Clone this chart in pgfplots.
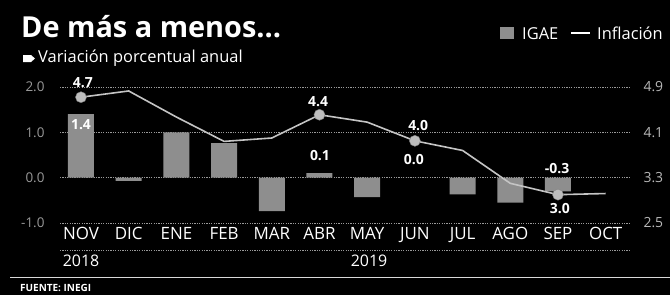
\documentclass[border=0pt]{standalone}
\usepackage{pgfplots}
\pgfplotsset{compat=1.18}
\usepackage{fontspec}
\setmainfont{Open Sans}
\definecolor{bargray}{HTML}{8E8E8E}
\definecolor{linegray}{HTML}{C4C4C4}
\definecolor{gridgray}{HTML}{9A9A9A}
\definecolor{lefttick}{HTML}{999999}
\definecolor{righttick}{HTML}{B8B8B8}
\definecolor{markgray}{HTML}{BDBDBD}
\pgfplotstableread{
x y
0 1.4
1 -0.07
2 1.0
3 0.76
4 -0.74
5 0.1
6 -0.43
7 0.0
8 -0.37
9 -0.55
10 -0.3
}\igae
\pgfplotstableread{
x y
0 4.72
1 4.83
2 4.37
3 3.94
4 4.00
5 4.41
6 4.28
7 3.95
8 3.78
9 3.20
10 3.00
11 3.02
}\infl
\pgfplotstableread{
x y
0 4.72
5 4.41
7 3.95
10 3.00
}\inflmk
\begin{document}
\begin{tikzpicture}[x=1bp,y=1bp]
\useasboundingbox (0,0) rectangle (670,295);
\fill[black] (0,0) rectangle (670,295);
% title
\node[anchor=base west, inner sep=0, text=white, font=\fontsize{29}{29}\bfseries\selectfont] at (21,258) {De más a menos...};
\fill[white] (23,240) -- (31,240) -- (35,236.5) -- (31,233) -- (23,233) -- cycle;
\node[anchor=base west, inner sep=0, text=white, font=\fontsize{16.5}{16.5}\selectfont] at (38,233) {Variación porcentual anual};
% legend
\fill[bargray] (500,256) rectangle (514,268);
\node[anchor=base west, inner sep=0, text=white, font=\fontsize{16.5}{16.5}\selectfont] at (522,256) {IGAE};
\draw[white, line width=1.8bp] (571,262) -- (590,262);
\node[anchor=base west, inner sep=0, text=white, font=\fontsize{16.5}{16.5}\selectfont] at (597,256) {Inflación};
\begin{axis}[
  at={(60bp,72bp)}, anchor=south west, scale only axis,
  width=570bp, height=136bp,
  xmin=-0.44, xmax=11.51, ymin=-1, ymax=2,
  axis line style={draw=none}, major tick length=0pt,
  ytick={-1,0,1,2}, yticklabels={-1.0,0.0,1.0,2.0},
  yticklabel style={text=lefttick, font=\fontsize{13.5}{13.5}\selectfont, anchor=east, xshift=-12bp},
  ymajorgrids, grid style={gridgray, dash pattern=on 1.2bp off 1.2bp, line width=0.9bp},
  xtick={0,...,11},
  xticklabels={NOV,DIC,ENE,FEB,MAR,ABR,MAY,JUN,JUL,AGO,SEP,OCT},
  xticklabel style={text=white, font=\fontsize{17}{17}\selectfont, anchor=north, yshift=-1bp},
  clip=false,
  /pgf/number format/assume math mode=true,
]
\addplot[ybar, bar width=26bp, fill=bargray, draw=none] table[x=x,y=y] {\igae};
\node[text=white, font=\fontsize{14}{14}\bfseries\selectfont] at (axis cs:0.04,2.10) {4.7};
\node[text=white, font=\fontsize{14}{14}\bfseries\selectfont] at (axis cs:0.0,1.18) {1.4};
\node[text=white, font=\fontsize{14}{14}\bfseries\selectfont] at (axis cs:4.97,1.67) {4.4};
\node[text=white, font=\fontsize{14}{14}\bfseries\selectfont] at (axis cs:5.01,0.48) {0.1};
\node[text=white, font=\fontsize{14}{14}\bfseries\selectfont] at (axis cs:7.07,1.16) {4.0};
\node[text=white, font=\fontsize{14}{14}\bfseries\selectfont] at (axis cs:6.98,0.39) {0.0};
\node[text=white, font=\fontsize{14}{14}\bfseries\selectfont] at (axis cs:9.98,0.21) {-0.3};
\node[text=white, font=\fontsize{14}{14}\bfseries\selectfont] at (axis cs:10.04,-0.67) {3.0};
\end{axis}
\begin{axis}[
  at={(60bp,72bp)}, anchor=south west, scale only axis,
  width=570bp, height=136bp,
  xmin=-0.44, xmax=11.51, ymin=2.5, ymax=4.9,
  axis line style={draw=none}, major tick length=0pt,
  axis y line*=right, hide x axis,
  ytick={2.5,3.3,4.1,4.9}, yticklabels={2.5,3.3,4.1,4.9},
  yticklabel style={text=righttick, font=\fontsize{14}{14}\selectfont, anchor=west, xshift=10bp},
  clip=false,
  /pgf/number format/assume math mode=true,
]
\addplot[linegray, line width=1.6bp, mark=none] table[x=x,y=y] {\infl};
\addplot[only marks, mark=*, mark size=5.5bp, mark options={fill=markgray, draw=gray}] table[x=x,y=y] {\inflmk};
\end{axis}
% separators and footnote
\draw[gridgray, dash pattern=on 1.2bp off 1.2bp, line width=0.9bp] (60,45) -- (630,45);
\node[anchor=base, inner sep=0, text=white, font=\fontsize{16}{16}\selectfont] at (81,29) {2018};
\node[anchor=base, inner sep=0, text=white, font=\fontsize{16}{16}\selectfont] at (369,29) {2019};
\draw[white!85!black, line width=1bp] (10,18) -- (670,18);
\node[anchor=base west, inner sep=0, text=white, font=\fontsize{10}{10}\bfseries\selectfont] at (20,4) {FUENTE: INEGI};
\end{tikzpicture}
\end{document}
